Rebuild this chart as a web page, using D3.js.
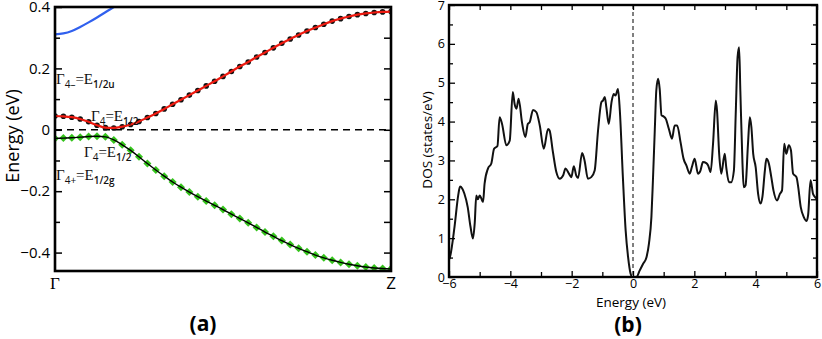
<!DOCTYPE html>
<html>
<head>
    <meta charset="utf-8">
    <title>Band structure and DOS</title>
    <style>
        body { margin: 0; background: #fff; }
    </style>
</head>
<body>

    <script src="https://d3js.org/d3.v7.min.js"></script>
    <script type="text/javascript">

    // ---- panel (a): bands along Gamma -> Z ----
    var kPts = [0, 0.025, 0.05, 0.075, 0.1, 0.125, 0.15, 0.175, 0.2, 0.225,
                0.25, 0.275, 0.3, 0.325, 0.35, 0.375, 0.4, 0.425, 0.45, 0.475,
                0.5, 0.525, 0.55, 0.575, 0.6, 0.625, 0.65, 0.675, 0.7, 0.725,
                0.75, 0.775, 0.8, 0.825, 0.85, 0.875, 0.9, 0.925, 0.95, 0.975, 1];

    var redBand = [0.045, 0.044, 0.041, 0.035, 0.026, 0.015, 0.007, 0.006, 0.010, 0.017,
                   0.027, 0.040, 0.053, 0.068, 0.083, 0.098, 0.113, 0.128, 0.143, 0.158,
                   0.174, 0.190, 0.206, 0.221, 0.237, 0.252, 0.267, 0.282, 0.296, 0.309,
                   0.322, 0.333, 0.344, 0.354, 0.362, 0.369, 0.375, 0.379, 0.382, 0.384, 0.385];

    var greenBand = [-0.028, -0.027, -0.026, -0.024, -0.022, -0.021, -0.023, -0.033, -0.049, -0.067,
                     -0.088, -0.110, -0.131, -0.151, -0.170, -0.187, -0.203, -0.218, -0.232, -0.246,
                     -0.260, -0.275, -0.289, -0.303, -0.318, -0.333, -0.347, -0.361, -0.374, -0.386,
                     -0.397, -0.408, -0.417, -0.425, -0.432, -0.438, -0.443, -0.447, -0.450, -0.452, -0.453];

    var kBlue = [0, 0.025, 0.05, 0.075, 0.1, 0.125, 0.15, 0.175, 0.2];
    var blueBand = [0.311, 0.314, 0.322, 0.335, 0.350, 0.366, 0.383, 0.400, 0.418];

    var bandTicks = [-0.4, -0.2, 0, 0.2, 0.4];
    var bandMinor = [-0.3, -0.1, 0.1, 0.3];
    var kLabels = ["\u0393", "Z"];

    // ---- panel (b): density of states ----
    var dosE = [-6.00, -5.97, -5.82, -5.70, -5.64, -5.57, -5.50, -5.39, -5.30, -5.22,
                -5.16, -5.11, -5.06, -5.00, -4.95, -4.89, -4.84, -4.73, -4.62, -4.53,
                -4.42, -4.35, -4.27, -4.13, -4.02, -3.92, -3.86, -3.80, -3.73, -3.62,
                -3.51, -3.43, -3.37, -3.26, -3.15, -3.04, -2.91, -2.77, -2.72, -2.61,
                -2.50, -2.39, -2.28, -2.20, -2.09, -2.01, -1.93, -1.85, -1.79, -1.66,
                -1.58, -1.47, -1.36, -1.25, -1.14, -1.03, -0.98, -0.92, -0.87, -0.79,
                -0.70, -0.63, -0.57, -0.49, -0.43, -0.33, -0.24, -0.16, -0.08, -0.02,
                0.11, 0.22, 0.33, 0.44, 0.52, 0.60, 0.65, 0.71, 0.76, 0.82,
                0.87, 0.93, 1.00, 1.07, 1.17, 1.27, 1.36, 1.44, 1.55, 1.65,
                1.74, 1.85, 1.92, 2.01, 2.12, 2.20, 2.28, 2.39, 2.45, 2.53,
                2.61, 2.70, 2.74, 2.81, 2.88, 2.99, 3.04, 3.13, 3.20, 3.29,
                3.35, 3.41, 3.46, 3.50, 3.57, 3.61, 3.67, 3.75, 3.81, 3.86,
                3.92, 4.00, 4.08, 4.16, 4.22, 4.30, 4.35, 4.43, 4.51, 4.58,
                4.70, 4.79, 4.86, 4.93, 5.00, 5.08, 5.15, 5.22, 5.33, 5.38,
                5.47, 5.57, 5.66, 5.71, 5.79, 5.87, 5.98, 6.00];

    var dosV = [0.45, 0.51, 1.29, 2.10, 2.33, 2.28, 2.15, 1.80, 1.30, 0.99,
                1.40, 2.10, 2.00, 2.10, 2.03, 1.93, 2.40, 2.79, 2.92, 3.30,
                3.37, 4.11, 3.94, 3.39, 3.51, 4.76, 4.45, 4.33, 4.59, 3.98,
                3.60, 3.94, 3.98, 4.30, 4.24, 3.90, 3.30, 3.81, 3.77, 3.21,
                2.70, 2.53, 2.61, 2.79, 2.66, 2.57, 2.85, 2.61, 2.55, 3.19,
                3.00, 2.53, 2.57, 2.74, 3.77, 4.50, 4.54, 4.63, 4.37, 3.94,
                4.50, 4.71, 4.67, 4.84, 4.29, 2.57, 1.20, 0.51, 0.09, 0.00,
                0.00, 0.17, 0.34, 0.51, 0.86, 1.54, 2.49, 3.77, 4.80, 5.10,
                4.84, 4.16, 4.13, 4.07, 3.81, 3.56, 3.90, 3.90, 3.47, 3.04,
                2.87, 2.66, 2.83, 3.04, 2.66, 2.74, 2.96, 2.93, 2.87, 2.70,
                3.43, 4.54, 4.28, 3.17, 2.66, 3.17, 2.83, 2.44, 2.44, 2.74,
                4.20, 5.66, 5.91, 4.80, 2.92, 2.31, 2.36, 3.43, 4.11, 3.86,
                3.17, 2.83, 2.14, 1.89, 2.06, 2.74, 3.04, 2.92, 2.57, 2.23,
                1.97, 2.14, 2.23, 3.43, 3.17, 3.39, 3.26, 2.66, 2.57, 2.36,
                1.80, 1.54, 1.44, 1.59, 2.49, 2.14, 2.02, 2.00];

    var dosXTicks = [-6, -4, -2, 0, 2, 4, 6];
    var dosXMinor = [-5, -3, -1, 1, 3, 5];
    var dosYTicks = [0, 1, 2, 3, 4, 5, 6, 7];
    var dosYMinor = [0.5, 1.5, 2.5, 3.5, 4.5, 5.5, 6.5];

    var sans = "'Open Sans', 'Noto Sans', sans-serif";
    var serif = "'Liberation Serif', 'DejaVu Serif', serif";

    var svg = d3.select("body")
        .append("svg")
        .attr("width", 822)
        .attr("height", 339);

    // ================= panel (a) =================
    var a = {left: 55, right: 391, top: 7, bottom: 271};

    var x = d3.scaleLinear().domain([0, 1]).range([a.left, a.right]);
    var y = d3.scaleLinear().domain([-0.46, 0.4]).range([a.bottom, a.top]);

    svg.append("clipPath").attr("id", "clipA")
        .append("rect")
        .attr("x", a.left).attr("y", a.top)
        .attr("width", a.right - a.left).attr("height", a.bottom - a.top);

    var plotA = svg.append("g").attr("clip-path", "url(#clipA)");

    var red = kPts.map(function(k, i) { return {k: k, e: redBand[i]}; });
    var green = kPts.map(function(k, i) { return {k: k, e: greenBand[i]}; });
    var blue = kBlue.map(function(k, i) { return {k: k, e: blueBand[i]}; });

    var band = d3.line()
        .x(function(d) { return x(d.k); })
        .y(function(d) { return y(d.e); })
        .curve(d3.curveMonotoneX);

    // zero line
    plotA.append("line")
        .attr("x1", a.left).attr("x2", a.right)
        .attr("y1", y(0)).attr("y2", y(0))
        .style("stroke", "#000")
        .style("stroke-width", "1.6px")
        .style("stroke-dasharray", "7,5");

    plotA.append("path")
        .datum(blue)
        .attr("d", band)
        .style("stroke", "#3060ee")
        .style("stroke-width", "2.2px")
        .style("fill", "none");

    // upper band: black dots under red line
    plotA.selectAll(".rdot")
        .data(red)
        .enter().append("circle")
        .attr("class", "rdot")
        .attr("cx", function(d) { return x(d.k); })
        .attr("cy", function(d) { return y(d.e); })
        .attr("r", 2.8)
        .style("fill", "#111");

    plotA.append("path")
        .datum(red)
        .attr("d", band)
        .style("stroke", "#ee1a10")
        .style("stroke-width", "2.2px")
        .style("fill", "none");

    // lower band: green markers with black line
    plotA.selectAll(".gdot")
        .data(green)
        .enter().append("path")
        .attr("class", "gdot")
        .attr("d", d3.symbol().type(d3.symbolSquare).size(32))
        .attr("transform", function(d) { return "translate(" + x(d.k) + "," + y(d.e) + ") rotate(45)"; })
        .style("fill", "#35c41c");

    plotA.append("path")
        .datum(green)
        .attr("d", band)
        .style("stroke", "#000")
        .style("stroke-width", "1.4px")
        .style("fill", "none");

    // ticks
    svg.append("g")
        .attr("transform", "translate(" + a.left + ",0)")
        .call(d3.axisLeft(y).tickValues(bandTicks).tickSize(-7).tickPadding(5)
            .tickFormat(function(d) { return d === 0 ? "0" : d3.format(".1f")(d); }))
        .call(function(g) {
            g.select(".domain").remove();
            g.selectAll("line").style("stroke", "#000").style("stroke-width", "1.5px");
            g.selectAll("text").style("font-family", sans).style("font-size", "15px").style("fill", "#000");
        });

    svg.append("g")
        .attr("transform", "translate(" + a.left + ",0)")
        .call(d3.axisLeft(y).tickValues(bandMinor).tickSize(-5).tickFormat(""))
        .call(function(g) {
            g.select(".domain").remove();
            g.selectAll("line").style("stroke", "#000").style("stroke-width", "1.5px");
        });

    svg.append("g")
        .attr("transform", "translate(" + a.right + ",0)")
        .call(d3.axisRight(y).tickValues(bandTicks.concat(bandMinor)).tickSize(-7).tickFormat(""))
        .call(function(g) {
            g.select(".domain").remove();
            g.selectAll("line").style("stroke", "#000").style("stroke-width", "1.5px");
        });

    // frame
    svg.append("rect")
        .attr("x", a.left).attr("y", a.top)
        .attr("width", a.right - a.left).attr("height", a.bottom - a.top)
        .style("fill", "none")
        .style("stroke", "#000")
        .style("stroke-width", "2.6px");

    // k-point labels
    svg.selectAll(".klab")
        .data(kLabels)
        .enter().append("text")
        .attr("class", "klab")
        .attr("x", function(d, i) { return x(i); })
        .attr("y", 289)
        .attr("text-anchor", "middle")
        .text(function(d) { return d; })
        .style("font-family", function(d, i) { return i === 0 ? serif : sans; })
        .style("font-size", "17px");

    // band labels (irreps)
    var irreps = [
        {x: 56, y: 84, sub: "4\u2013", sub2: "1/2u"},
        {x: 91, y: 121, sub: "4", sub2: "1/2"},
        {x: 84, y: 157, sub: "4", sub2: "1/2"},
        {x: 56, y: 180, sub: "4+", sub2: "1/2g"}
    ];

    irreps.forEach(function(r) {
        var t = svg.append("text")
            .attr("x", r.x).attr("y", r.y)
            .style("font-family", serif)
            .style("font-size", "15px")
            .style("fill", "#111");
        t.append("tspan").text("\u0393");
        t.append("tspan").attr("dy", 4).style("font-family", sans).style("font-size", "10px").text(r.sub);
        t.append("tspan").attr("dy", -4).text("=E");
        t.append("tspan").attr("dy", 4).style("font-family", sans).style("font-size", "10px").style("font-weight", "600").text(r.sub2);
    });

    svg.append("text")
        .attr("transform", "translate(19,136) rotate(-90)")
        .attr("text-anchor", "middle")
        .text("Energy (eV)")
        .style("font-family", sans)
        .style("font-size", "18px");

    svg.append("text")
        .attr("x", 203).attr("y", 331)
        .attr("text-anchor", "middle")
        .text("(a)")
        .style("font-family", sans)
        .style("font-weight", "bold")
        .style("font-size", "21px");

    // ================= panel (b) =================
    var b = {left: 449, right: 817, top: 5, bottom: 277};

    var xd = d3.scaleLinear().domain([-6, 6]).range([b.left, b.right]);
    var yd = d3.scaleLinear().domain([0, 7]).range([b.bottom, b.top]);

    var dos = dosE.map(function(e, i) { return {e: e, v: dosV[i]}; });

    var dosLine = d3.line()
        .x(function(d) { return xd(d.e); })
        .y(function(d) { return yd(d.v); })
        .curve(d3.curveMonotoneX);

    svg.append("line")
        .attr("x1", xd(0)).attr("x2", xd(0))
        .attr("y1", b.top).attr("y2", b.bottom)
        .style("stroke", "#000")
        .style("stroke-width", "1px")
        .style("stroke-dasharray", "4,3");

    svg.append("path")
        .datum(dos)
        .attr("d", dosLine)
        .style("stroke", "#111")
        .style("stroke-width", "2px")
        .style("stroke-linejoin", "round")
        .style("fill", "none");

    function tickStyle(g) {
        g.select(".domain").remove();
        g.selectAll("line").style("stroke", "#000").style("stroke-width", "1.3px");
        g.selectAll("text").style("font-family", sans).style("font-size", "12.5px").style("fill", "#000");
    }

    svg.append("g")
        .attr("transform", "translate(0," + b.bottom + ")")
        .call(d3.axisBottom(xd).tickValues(dosXTicks).tickSize(-6).tickPadding(2).tickFormat(d3.format("d")))
        .call(tickStyle);
    svg.append("g")
        .attr("transform", "translate(0," + b.bottom + ")")
        .call(d3.axisBottom(xd).tickValues(dosXMinor).tickSize(-5).tickFormat(""))
        .call(tickStyle);
    svg.append("g")
        .attr("transform", "translate(0," + b.top + ")")
        .call(d3.axisTop(xd).tickValues(dosXTicks.concat(dosXMinor)).tickSize(-5).tickFormat(""))
        .call(tickStyle);

    svg.append("g")
        .attr("transform", "translate(" + b.left + ",0)")
        .call(d3.axisLeft(yd).tickValues(dosYTicks).tickSize(-6).tickPadding(4).tickFormat(d3.format("d")))
        .call(tickStyle);
    svg.append("g")
        .attr("transform", "translate(" + b.left + ",0)")
        .call(d3.axisLeft(yd).tickValues(dosYMinor).tickSize(-4).tickFormat(""))
        .call(tickStyle);
    svg.append("g")
        .attr("transform", "translate(" + b.right + ",0)")
        .call(d3.axisRight(yd).tickValues(dosYTicks).tickSize(-6).tickFormat(""))
        .call(tickStyle);
    svg.append("g")
        .attr("transform", "translate(" + b.right + ",0)")
        .call(d3.axisRight(yd).tickValues(dosYMinor).tickSize(-4).tickFormat(""))
        .call(tickStyle);

    svg.append("rect")
        .attr("x", b.left).attr("y", b.top)
        .attr("width", b.right - b.left).attr("height", b.bottom - b.top)
        .style("fill", "none")
        .style("stroke", "#000")
        .style("stroke-width", "2.4px");

    svg.append("text")
        .attr("x", 631).attr("y", 307)
        .attr("text-anchor", "middle")
        .text("Energy (eV)")
        .style("font-family", sans)
        .style("font-size", "13.5px");

    svg.append("text")
        .attr("transform", "translate(432,140) rotate(-90)")
        .attr("text-anchor", "middle")
        .text("DOS (states/eV)")
        .style("font-family", sans)
        .style("font-size", "13.5px");

    svg.append("text")
        .attr("x", 628).attr("y", 332)
        .attr("text-anchor", "middle")
        .text("(b)")
        .style("font-family", sans)
        .style("font-weight", "bold")
        .style("font-size", "21px");

    </script>
</body>
</html>
